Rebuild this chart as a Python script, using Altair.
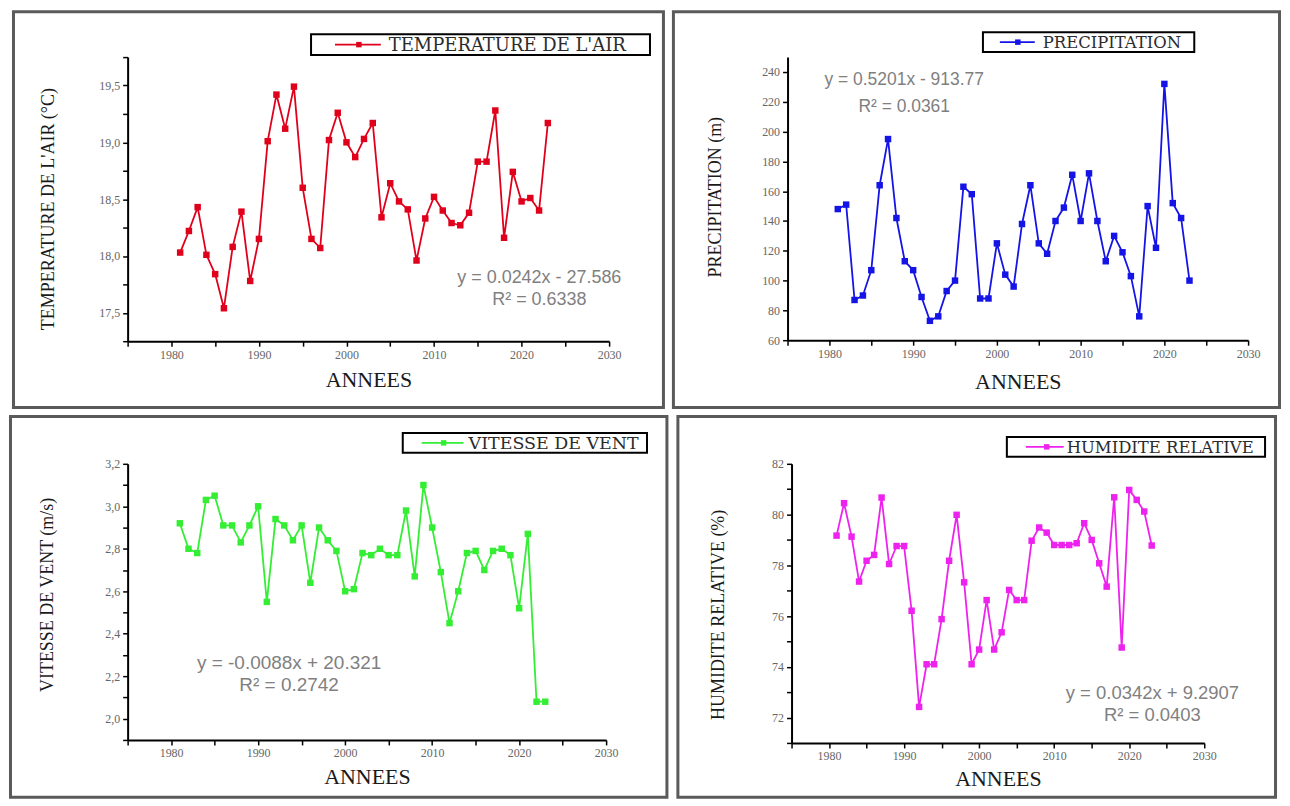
import altair as alt
import pandas as pd

# ---------------- data ----------------
YEARS = list(range(1981, 2024))

TEMP = [18.03, 18.22, 18.43, 18.01, 17.84, 17.54, 18.08, 18.39, 17.78, 18.15,
        19.01, 19.42, 19.12, 19.49, 18.60, 18.15, 18.07, 19.02, 19.26, 19.00,
        18.87, 19.03, 19.17, 18.34, 18.64, 18.48, 18.41, 17.96, 18.33, 18.52,
        18.40, 18.29, 18.27, 18.38, 18.83, 18.83, 19.28, 18.16, 18.74, 18.48,
        18.51, 18.40, 19.17]

PRECIP = [148, 151, 87, 90, 107, 164, 195, 142, 113, 107,
          89, 73, 76, 93, 100, 163, 158, 88, 88, 125,
          104, 96, 138, 164, 125, 118, 140, 149, 171, 140,
          172, 140, 113, 130, 119, 103, 76, 150, 122, 232,
          152, 142, 100]

WIND = [2.92, 2.80, 2.78, 3.03, 3.05, 2.91, 2.91, 2.83, 2.91, 3.00,
        2.55, 2.94, 2.91, 2.84, 2.91, 2.64, 2.90, 2.84, 2.79, 2.60,
        2.61, 2.78, 2.77, 2.80, 2.77, 2.77, 2.98, 2.67, 3.10, 2.90,
        2.69, 2.45, 2.60, 2.78, 2.79, 2.70, 2.79, 2.80, 2.77, 2.52,
        2.87, 2.08, 2.08]

HUM = [79.17, 80.45, 79.13, 77.36, 78.18, 78.41, 80.67, 78.05, 78.76, 78.76,
       76.21, 72.42, 74.10, 74.10, 75.88, 78.18, 79.99, 77.33, 74.10, 74.68,
       76.63, 74.68, 75.36, 77.03, 76.63, 76.63, 78.97, 79.49, 79.29, 78.80,
       78.80, 78.80, 78.87, 79.66, 79.00, 78.08, 77.16, 80.68, 74.76, 80.97,
       80.58, 80.12, 78.78]

SERIES_NAMES = ["TEMPERATURE DE L'AIR", "PRECIPITATION", "VITESSE DE VENT", "HUMIDITE RELATIVE"]
Y_TITLES = ["TEMPERATURE DE L'AIR (°C)", "PRECIPITATION (m)", "VITESSE DE VENT (m/s)", "HUMIDITE RELATIVE (%)"]
X_TITLE = "ANNEES"
EQUATIONS = [
    ["y = 0.0242x - 27.586", "R² = 0.6338"],
    ["y = 0.5201x - 913.77", "R² = 0.0361"],
    ["y = -0.0088x + 20.321", "R² = 0.2742"],
    ["y = 0.0342x + 9.2907", "R² = 0.0403"],
]

X_DOMAIN = [1975, 2030]
X_TICKS = [1975, 1980, 1985, 1990, 1995, 2000, 2005, 2010, 2015, 2020, 2025, 2030]
TEMP_DOMAIN = [17.25, 19.75]
TEMP_TICKS = [17.25, 17.5, 17.75, 18.0, 18.25, 18.5, 18.75, 19.0, 19.25, 19.5, 19.75]
PRECIP_DOMAIN = [60, 250]
PRECIP_TICKS = [60, 80, 100, 120, 140, 160, 180, 200, 220, 240]
WIND_DOMAIN = [1.9, 3.2]
WIND_TICKS = [1.9, 2.0, 2.1, 2.2, 2.3, 2.4, 2.5, 2.6, 2.7, 2.8, 2.9, 3.0, 3.1, 3.2]
HUM_DOMAIN = [71, 82]
HUM_TICKS = [71, 72, 73, 74, 75, 76, 77, 78, 79, 80, 81, 82]

# ---------------- styling ----------------
SERIF = "Liberation Serif"
SANS = "Liberation Sans"
LEG_FONT = "DejaVu Serif"

X_LAB = "datum.value % 10 == 0 ? format(datum.value, 'd') : ''"
TEMP_LAB = "abs(datum.value * 2 - round(datum.value * 2)) < 0.01 ? replace(format(datum.value, '.1f'), '.', ',') : ''"
PRECIP_LAB = "format(datum.value, 'd')"
WIND_LAB = "round(datum.value * 10) % 2 == 0 ? replace(format(datum.value, '.1f'), '.', ',') : ''"
HUM_LAB = "datum.value % 2 == 0 ? format(datum.value, 'd') : ''"

GEOM = {
    "TL": dict(w=483, h=285, frame=(-114.5, 537.5, -45.5, 351.5), box=(184, 524, -23, -2),
               line=(208, 254), marker=232, text_x=262, leg_y=-12.5, leg_fs=18,
               eq_x=413, eq_y=(222, 244), eq_fs=18, yt_x=-79, yt_y=152, xt_y=38),
    "TR": dict(w=462, h=284, frame=(-114.5, 493.5, -45.5, 351.5), box=(196, 408, -25, -5),
               line=(213, 248), marker=231, text_x=256, leg_y=-15, leg_fs=16.5,
               eq_x=117, eq_y=(23, 50), eq_fs=17.5, yt_x=-72, yt_y=140, xt_y=41),
    "BL": dict(w=480, h=277, frame=(-117.5, 541, -47.5, 334.5), box=(276, 521, -31, -11),
               line=(295, 337), marker=317, text_x=342, leg_y=-21, leg_fs=17.5,
               eq_x=162, eq_y=(200, 222), eq_fs=19, yt_x=-80, yt_y=131, xt_y=37),
    "BR": dict(w=414, h=280, frame=(-114, 485.5, -47.5, 334.5), box=(216, 475, -27, -7),
               line=(235, 273), marker=256, text_x=276, leg_y=-17, leg_fs=16.5,
               eq_x=362, eq_y=(230, 252), eq_fs=18.5, yt_x=-73, yt_y=151, xt_y=36),
}


def panel(vals, color, ydom, yticks, ylab, ytitle, name, eqs, g):
    df = pd.DataFrame({"year": YEARS, "value": vals})
    one = pd.DataFrame({"label": [name]})

    xax = alt.Axis(values=X_TICKS, tickCount=len(X_TICKS) + 5, labelExpr=X_LAB, title=X_TITLE,
                   titleFont=SERIF, titleFontSize=22, titleFontWeight="normal",
                   titleColor="#1a1a1a", titleX=g["w"] / 2, titleY=g["xt_y"],
                   titleBaseline="middle", titleAlign="center")
    yax = alt.Axis(values=yticks, tickCount=len(yticks) + 5, labelExpr=ylab, title=ytitle,
                   titleFont=SERIF, titleFontSize=18, titleFontWeight="normal",
                   titleColor="#1a1a1a", titleX=g["yt_x"], titleY=g["yt_y"],
                   titleAngle=270, titleBaseline="middle", titleAlign="center")

    x = alt.X("year:Q", scale=alt.Scale(domain=X_DOMAIN, nice=False, zero=False), axis=xax)
    y = alt.Y("value:Q", scale=alt.Scale(domain=ydom, nice=False, zero=False), axis=yax)

    fx1, fx2, fy1, fy2 = g["frame"]
    frame = alt.Chart(one).mark_rect(fill="white", fillOpacity=0, stroke="#5a5a5a", strokeWidth=3).encode(
        x=alt.value(fx1), x2=alt.value(fx2), y=alt.value(fy1), y2=alt.value(fy2))
    line = alt.Chart(df).mark_line(color=color, strokeWidth=1.8).encode(x=x, y=y)
    pts = alt.Chart(df).mark_point(shape="square", filled=True, size=42, color=color, opacity=1).encode(
        x="year:Q", y="value:Q")

    bx1, bx2, by1, by2 = g["box"]
    box = alt.Chart(one).mark_rect(fill="white", stroke="black", strokeWidth=2).encode(
        x=alt.value(bx1), x2=alt.value(bx2), y=alt.value(by1), y2=alt.value(by2))
    lsym = alt.Chart(one).mark_rule(color=color, strokeWidth=1.8).encode(
        x=alt.value(g["line"][0]), x2=alt.value(g["line"][1]), y=alt.value(g["leg_y"]))
    lpt = alt.Chart(one).mark_point(shape="square", filled=True, size=30, color=color, opacity=1).encode(
        x=alt.value(g["marker"]), y=alt.value(g["leg_y"]))
    ltxt = alt.Chart(one).mark_text(align="left", baseline="middle", font=LEG_FONT,
                                    fontSize=g["leg_fs"], color="#2b2b2b").encode(
        x=alt.value(g["text_x"]), y=alt.value(g["leg_y"] + 1), text="label:N")

    eq1 = alt.Chart(one).mark_text(align="center", baseline="middle", font=SANS,
                                   fontSize=g["eq_fs"], color="#808080").encode(
        x=alt.value(g["eq_x"]), y=alt.value(g["eq_y"][0]), text=alt.value(eqs[0]))
    eq2 = alt.Chart(one).mark_text(align="center", baseline="middle", font=SANS,
                                   fontSize=g["eq_fs"], color="#808080").encode(
        x=alt.value(g["eq_x"]), y=alt.value(g["eq_y"][1]), text=alt.value(eqs[1]))

    return alt.layer(frame, line, pts, box, lsym, lpt, ltxt, eq1, eq2).properties(
        width=g["w"], height=g["h"])


tl = panel(TEMP, "#e0001b", TEMP_DOMAIN, TEMP_TICKS, TEMP_LAB, Y_TITLES[0], SERIES_NAMES[0], EQUATIONS[0], GEOM["TL"])
tr = panel(PRECIP, "#1414e6", PRECIP_DOMAIN, PRECIP_TICKS, PRECIP_LAB, Y_TITLES[1], SERIES_NAMES[1], EQUATIONS[1], GEOM["TR"])
bl = panel(WIND, "#33ee33", WIND_DOMAIN, WIND_TICKS, WIND_LAB, Y_TITLES[2], SERIES_NAMES[2], EQUATIONS[2], GEOM["BL"])
br = panel(HUM, "#ee22ee", HUM_DOMAIN, HUM_TICKS, HUM_LAB, Y_TITLES[3], SERIES_NAMES[3], EQUATIONS[3], GEOM["BR"])

chart = alt.vconcat(
    alt.hconcat(tl, tr, spacing=5),
    alt.hconcat(bl, br, spacing=7),
    spacing=4,
).properties(padding=0, background="white").configure_view(
    stroke="transparent"
).configure_axis(
    grid=False, domainColor="black", domainWidth=2, tickColor="black", tickWidth=1.5,
    tickSize=5, labelFont=SERIF, labelFontSize=12, labelColor="#666666", labelPadding=3,
    labelOverlap=False, labelFlush=False, zindex=1,
)

chart.save("out.html", embed_options={"renderer": "svg", "actions": False})
